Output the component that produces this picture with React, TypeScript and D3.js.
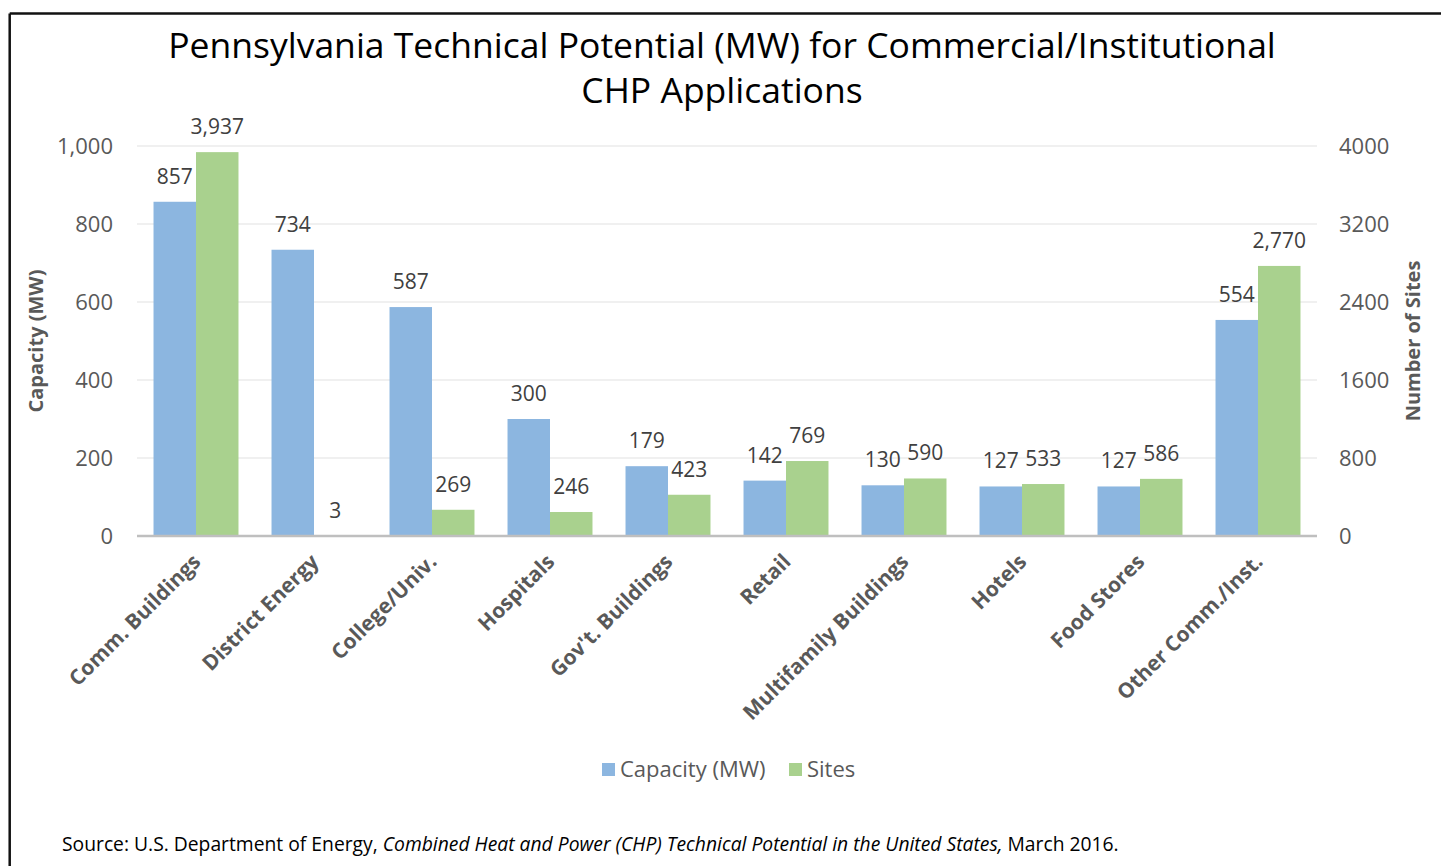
import React from "react";
import * as d3 from "d3";

const categories = [
  "Comm. Buildings",
  "District Energy",
  "College/Univ.",
  "Hospitals",
  "Gov't. Buildings",
  "Retail",
  "Multifamily Buildings",
  "Hotels",
  "Food Stores",
  "Other Comm./Inst.",
];
const capacity = [857, 734, 587, 300, 179, 142, 130, 127, 127, 554];
const sites = [3937, 3, 269, 246, 423, 769, 590, 533, 586, 2770];
const leftTicks = [0, 200, 400, 600, 800, 1000];
const rightTicks = [0, 800, 1600, 2400, 3200, 4000];

const W = 1441;
const H = 866;
const FONT = "'Open Sans', 'Noto Sans', sans-serif";
const BLUE = "#8cb6e0";
const GREEN = "#a9d18e";

export default function App() {
  const x0 = 137, x1 = 1317, yTop = 146, yBot = 536;
  const xBand = d3.scaleBand<string>().domain(categories).range([x0, x1]).paddingInner(0.28).paddingOuter(0.14);
  const xSub = d3.scaleBand<string>().domain(["cap", "sites"]).range([0, xBand.bandwidth()]);
  const yL = d3.scaleLinear().domain([0, 1000]).range([yBot, yTop]);
  const yR = d3.scaleLinear().domain([0, 4000]).range([yBot, yTop]);
  const fmt = d3.format(",");

  return (
    <svg width={W} height={H} style={{ position: "absolute", left: 0, top: 0, background: "#fff" }} fontFamily={FONT}>
      <rect x={0} y={0} width={W} height={H} fill="#fff" />
      {/* border */}
      <line x1={9.7} y1={13.5} x2={W} y2={13.5} stroke="#111" strokeWidth={2.5} />
      <line x1={9.7} y1={13.5} x2={9.7} y2={H} stroke="#111" strokeWidth={2.5} />

      {/* title */}
      <text x={722} y={58} textAnchor="middle" fontSize={35.5} fill="#000">
        Pennsylvania Technical Potential (MW) for Commercial/Institutional
      </text>
      <text x={722} y={103} textAnchor="middle" fontSize={35.5} fill="#000">
        CHP Applications
      </text>

      {/* gridlines */}
      {leftTicks.filter((t) => t > 0).map((t) => (
        <line key={t} x1={x0} x2={x1} y1={yL(t)} y2={yL(t)} stroke="#ebebeb" strokeWidth={1.5} />
      ))}

      {/* bars */}
      {categories.map((c, i) => {
        const bx = xBand(c)!;
        return (
          <g key={c}>
            <rect x={bx + xSub("cap")!} y={yL(capacity[i])} width={xSub.bandwidth()} height={yBot - yL(capacity[i])} fill={BLUE} />
            <rect x={bx + xSub("sites")!} y={yR(sites[i])} width={xSub.bandwidth()} height={yBot - yR(sites[i])} fill={GREEN} />
            <text x={bx + xSub("cap")! + xSub.bandwidth() / 2} y={yL(capacity[i]) - 18} textAnchor="middle" fontSize={21} fill="#404040">
              {fmt(capacity[i])}
            </text>
            <text x={bx + xSub("sites")! + xSub.bandwidth() / 2} y={yR(sites[i]) - 18} textAnchor="middle" fontSize={21} fill="#404040">
              {fmt(sites[i])}
            </text>
            <text
              transform={`translate(${bx + xBand.bandwidth() / 2 + 6},${yBot + 27}) rotate(-45)`}
              textAnchor="end"
              fontSize={21}
              fontWeight="bold"
              fill="#595959"
            >
              {c}
            </text>
          </g>
        );
      })}

      {/* baseline */}
      <line x1={x0} x2={x1} y1={yBot} y2={yBot} stroke="#bfbfbf" strokeWidth={2.5} />

      {/* left ticks */}
      {leftTicks.map((t) => (
        <text key={t} x={113} y={yL(t)} dy="0.35em" textAnchor="end" fontSize={22} fill="#595959">
          {fmt(t)}
        </text>
      ))}
      {/* right ticks */}
      {rightTicks.map((t) => (
        <text key={t} x={1339} y={yR(t)} dy="0.35em" textAnchor="start" fontSize={22} fill="#595959">
          {t}
        </text>
      ))}

      {/* axis titles */}
      <text transform={`translate(43,341) rotate(-90)`} textAnchor="middle" fontSize={20} fontWeight="bold" fill="#595959">
        Capacity (MW)
      </text>
      <text transform={`translate(1420,341) rotate(-90)`} textAnchor="middle" fontSize={20} fontWeight="bold" fill="#595959">
        Number of Sites
      </text>

      {/* legend */}
      <rect x={602} y={763} width={13} height={13} fill={BLUE} />
      <text x={620} y={777} fontSize={22} fill="#595959">Capacity (MW)</text>
      <rect x={789} y={763} width={13} height={13} fill={GREEN} />
      <text x={807} y={777} fontSize={22} fill="#595959">Sites</text>

      {/* source */}
      <text x={62} y={851} fontSize={19.3} fill="#000">
        Source: U.S. Department of Energy, <tspan fontStyle="italic">Combined Heat and Power (CHP) Technical Potential in the United States,</tspan> March 2016.
      </text>
    </svg>
  );
}
